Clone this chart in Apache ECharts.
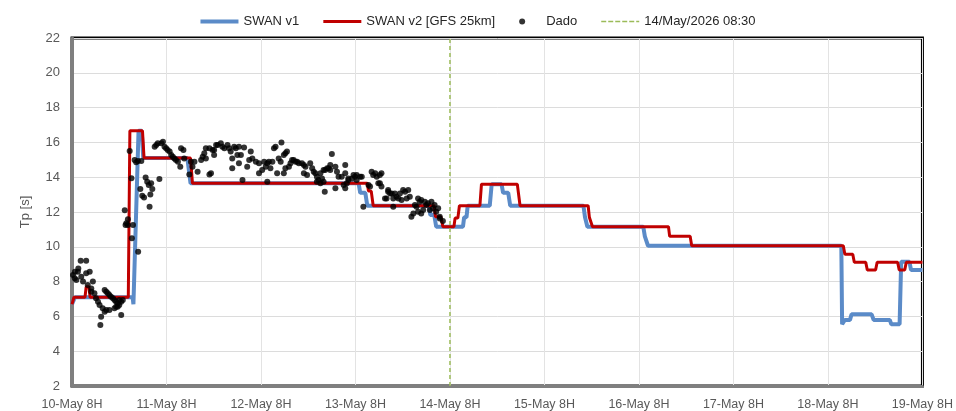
<!DOCTYPE html>
<html style="height: 100%">
<head>
<meta charset="utf-8">
<script src="https://cdn.jsdelivr.net/npm/echarts@6/dist/echarts.min.js"></script>
</head>
<body style="height: 100%; margin: 0; background: #fff">
<div id="container" style="width: 956px; height: 411px"></div>
<script type="text/javascript">
// x = hours since 10-May 8H
var xLabels = ['10-May 8H', '11-May 8H', '12-May 8H', '13-May 8H', '14-May 8H',
               '15-May 8H', '16-May 8H', '17-May 8H', '18-May 8H', '19-May 8H'];
var nowHour = 96;
var nowLabel = '14/May/2026 08:30';

var swanV1 = [[0,6.7],[0.75,7.1],[15.4,7.1],[15.6,6.7],[16.1,6.7],[16.9,16.67],[17.7,16.67],[18.1,15.1],
  [29.3,15.1],[30.1,13.65],[72.8,13.65],[73.2,13.1],[74.5,13.1],[75,12.36],[90.7,12.36],[91,11.83],
  [92,11.83],[92.5,11.15],[99.3,11.15],[99.6,11.7],[100.2,11.7],[100.5,12.36],[106.1,12.36],[106.6,13.6],
  [109.1,13.6],[109.5,13.1],[110.8,13.1],[111.3,12.36],[129.9,12.36],[130.3,11.7],[130.6,11.7],[130.9,11.15],
  [145.1,11.15],[145.5,10.6],[145.9,10.6],[146.3,10.06],[195.4,10.06],[195.6,5.55],[196.3,5.8],[197.6,5.8],
  [198,6.12],[203.1,6.12],[203.6,5.8],[207.7,5.8],[208.1,5.55],[210.2,5.55],[210.6,9.14],[212.7,9.14],
  [213.1,8.67],[216,8.67]];

var swanV2 = [[0,6.7],[0.5,7.1],[3.3,7.1],[3.6,7.7],[4.3,7.7],[4.6,7.1],[14.3,7.1],[14.7,16.67],
  [17.9,16.67],[18.3,15.1],[30.1,15.1],[30.6,13.65],[75,13.65],[75.3,13.2],[76,13.2],[76.5,12.36],
  [92,12.36],[92.3,11.73],[93.7,11.73],[94.2,11.15],[97,11.15],[97.3,11.65],[98,11.65],[98.4,12.36],
  [103.6,12.36],[104,13.6],[113.1,13.6],[113.8,12.36],[131.1,12.36],[131.4,11.7],[131.9,11.7],[132.2,11.15],
  [151.5,11.15],[151.8,10.6],[157,10.6],[157.4,10.06],[195.9,10.06],[196.3,9.57],[198.3,9.57],[198.7,9.11],
  [201.6,9.11],[202,8.67],[204.1,8.67],[204.5,9.11],[209.7,9.11],[210.1,8.67],[211.5,8.67],[211.9,9.11],
  [216,9.11]];

var dado = [
  [0.25,8.38],[0.7,8.19],[1.1,8.09],[1.5,8.57],[2.2,9.2],[3.6,9.2],[2.35,8.28],[2.8,8.0],[3.6,8.48],
  [4.5,8.57],[4.0,7.8],[4.9,7.61],[5.3,8.0],[4.9,7.42],[5.7,7.33],[6.1,7.04],[6.6,6.84],[7.0,6.66],
  [7.8,6.47],[7.4,5.98],[7.2,5.5],[8.3,6.27],[8.7,6.37],[8.3,7.52],[8.7,7.42],[9.1,7.33],[9.5,7.23],
  [9.9,7.13],[10.4,7.04],[10.8,6.94],[11.2,6.84],[11.6,6.75],[9.5,6.37],[10.8,6.47],[11.2,6.56],
  [12.0,6.94],[12.5,6.84],[12.9,6.94],[12.5,6.08],[11.6,6.56],[12.0,6.66],[0.75,8.57],[1.6,8.76],
  [13.4,12.1],[13.8,11.35],[14.2,11.25],[13.6,11.25],[14.2,11.58],[15.5,11.25],[15.2,10.49],[16.8,9.72],
  [14.65,15.5],[15.1,13.94],[15.9,14.99],[16.3,14.86],[16.75,14.93],[17.6,14.93],[17.35,13.32],
  [17.85,12.94],[18.3,12.83],[18.7,13.98],[19.1,13.74],[19.5,13.55],[20.1,13.65],[20.4,13.32],
  [19.9,13.01],[19.7,12.3],[22.2,13.9],
  [21,15.75],[21.4,15.85],[21.8,15.95],[22.7,15.95],[23.1,16.04],[23.5,15.75],[23.9,15.66],[24.3,15.56],
  [24.8,15.47],[25.2,15.28],[25.6,15.18],[26,15.08],[26.4,14.99],[26.9,14.89],[27.5,14.6],[27.7,15.66],
  [28.3,15.56],[28.5,15.08],[29.8,14.16],[30.2,14.89],[31.1,14.89],[31.9,14.32],[32.8,14.99],[33.2,15.18],
  [34.0,15.66],[34.9,15.66],[34.9,14.16],[36.1,15.56],[36.6,15.85],[33.6,15.37],[34,15.08],[30.6,14.6],
  [35.7,15.56],[36.1,15.28],[35.3,14.22],[37.0,15.85],[37.8,15.95],[38.2,15.75],[38.7,15.66],[39.5,15.85],
  [39.9,15.66],[40.3,15.47],[41.2,15.75],[41.6,15.66],[42.4,15.75],[43.7,15.71],[40.7,15.08],[42,15.28],
  [42.9,15.28],[42.4,14.8],[40.7,14.51],[43.3,13.84],[44.5,14.6],[45,14.99],[45.4,15.47],[45.8,15.08],
  [46.7,14.89],[47.5,14.8],[47.5,14.22],[48.3,14.41],[48.8,14.89],[49.2,14.6],[49.6,14.8],[50,14.89],
  [49.6,13.74],[50.4,14.51],[50.9,14.89],[51.3,15.66],[51.7,15.75],[52.1,14.22],[52.5,15.08],[53,14.89],
  [53.2,15.99],[53.8,15.28],[54.2,15.37],[54.6,15.47],[53.8,14.22],[54.2,14.51],[55.1,14.6],[55.5,14.8],
  [55.9,14.99],[56.3,14.99],[56.8,14.89],[57.2,14.89],[57.6,14.8],[58.4,14.8],[58.9,14.7],[59.3,14.6],
  [58.9,14.22],[59.7,14.13],[60.5,14.8],[61,14.51],[61.4,14.32],[61.8,14.22],[62.2,14.03],[62.6,13.84],
  [62.2,13.74],[63.1,13.65],[63.5,13.93],[63.9,13.74],[64.3,14.41],[64.2,13.17],
  [66,15.33],[65.6,14.7],[65.2,14.51],[66.9,14.6],[67.3,14.32],[67.7,14.03],[68.5,14.03],[69.4,14.7],
  [69.8,13.65],[70.2,13.84],[71.1,13.93],[71.9,14.03],[72.3,13.84],[73.2,14.03],[69.4,13.36],[66.9,13.36],
  [69,13.55],[74,12.3],[75.3,13.55],[76.1,14.32],[76.5,14.13],[77.4,14.03],[78.2,14.13],[78.6,14.22],
  [77.8,13.65],[79.5,12.78],[80.3,13.17],[80.8,13.07],[82,13.07],[82.4,12.88],[81.6,12.78],
  [63.1,14.22],[63.9,14.41],[64.8,14.51],[65.6,14.41],[69.4,14.22],[70.2,13.93],[71.5,14.13],[72.3,14.13],
  [73.6,14.03],[75.7,13.46],[77,14.22],[78.2,13.65],[78.6,13.46],[79.9,12.78],[80.3,13.26],[81.2,13.07],
  [81.6,12.3],[83.3,13.07],[82.9,12.78],[83.7,12.69],[84.1,13.26],[84.6,13.17],[85,12.78],[85.4,13.26],
  [85.8,12.88],[86.2,11.73],[86.7,11.92],[87.1,12.4],[87.5,12.3],[87.9,12.78],[88.3,12.59],[88.7,12.69],
  [89.2,12.11],[89.6,12.59],[90,12.4],[90.4,12.5],[90.9,12.11],[91.3,12.59],[91.7,12.21],[92.1,12.4],
  [92.5,12.02],[93,12.21],[93.4,11.73],[87.9,12.02],[88.7,11.92],[94.2,11.48],[93.4,11.63]
];

var dom = document.getElementById('container');
var myChart = echarts.init(dom);
var labelColor = '#595959';

// legend icons drawn as plain strokes, like the spreadsheet legend
var thickLine = 'path://M0,0L38,0L38,4L0,4Z';
var midLine = 'path://M0,0.5L38,0.5L38,3.5L0,3.5Z';
var dashLine = 'path://M0,1.2L5,1.2L5,2.8L0,2.8Z M7,1.2L12,1.2L12,2.8L7,2.8Z M14,1.2L19,1.2L19,2.8L14,2.8Z M21,1.2L26,1.2L26,2.8L21,2.8Z M28,1.2L33,1.2L33,2.8L28,2.8Z M35,1.2L38,1.2L38,2.8L35,2.8Z M0,0L0.01,0 M0,4L0.01,4';

var option = {
    animation: false,
    textStyle: { fontFamily: 'Liberation Sans' },
    legend: {
        top: 10,
        left: 'center',
        itemWidth: 38,
        itemHeight: 6,
        itemGap: 24,
        textStyle: { color: '#262626', fontSize: 13 },
        data: [
            { name: 'SWAN v1', icon: thickLine },
            { name: 'SWAN v2 [GFS 25km]', icon: midLine },
            { name: 'Dado', icon: 'circle' },
            { name: nowLabel, icon: dashLine }
        ]
    },
    grid: {
        left: 72, right: 30, top: 38, bottom: 25,
        show: true, borderColor: '#000', borderWidth: 3
    },
    xAxis: {
        type: 'value',
        min: 0, max: 216, interval: 24,
        axisLine: { lineStyle: { color: '#7f7f7f', width: 3 } },
        axisTick: { show: false },
        splitLine: { lineStyle: { color: '#e3e3e3' } },
        axisLabel: {
            color: labelColor, fontSize: 12.5, margin: 12,
            formatter: function (v) { return xLabels[Math.round(v / 24)]; }
        }
    },
    yAxis: {
        type: 'value',
        min: 2, max: 22, interval: 2,
        name: 'Tp [s]',
        nameLocation: 'middle',
        nameGap: 40,
        nameTextStyle: { color: labelColor, fontSize: 13 },
        axisLine: { show: true, lineStyle: { color: '#7f7f7f', width: 3 } },
        axisTick: { show: false },
        splitLine: { lineStyle: { color: '#dcdcdc' } },
        axisLabel: { color: labelColor, fontSize: 13, margin: 12 }
    },
    series: [
        {
            name: 'SWAN v1', type: 'line', data: swanV1, symbol: 'none',
            color: '#5b8bc8', lineStyle: { width: 4, color: '#5b8bc8' }, z: 2
        },
        {
            name: 'SWAN v2 [GFS 25km]', type: 'line', data: swanV2, symbol: 'none',
            color: '#c00000', lineStyle: { width: 3, color: '#c00000' }, z: 3
        },
        {
            name: 'Dado', type: 'scatter', data: dado, symbolSize: 6,
            itemStyle: { color: '#000' }, z: 4
        },
        {
            name: nowLabel, type: 'line', symbol: 'none',
            data: [[nowHour, 2], [nowHour, 22]],
            color: '#9bbb59',
            lineStyle: { width: 1.5, color: '#9bbb59', type: [4, 3] }, z: 5
        }
    ]
};

myChart.setOption(option);
</script>
</body>
</html>
